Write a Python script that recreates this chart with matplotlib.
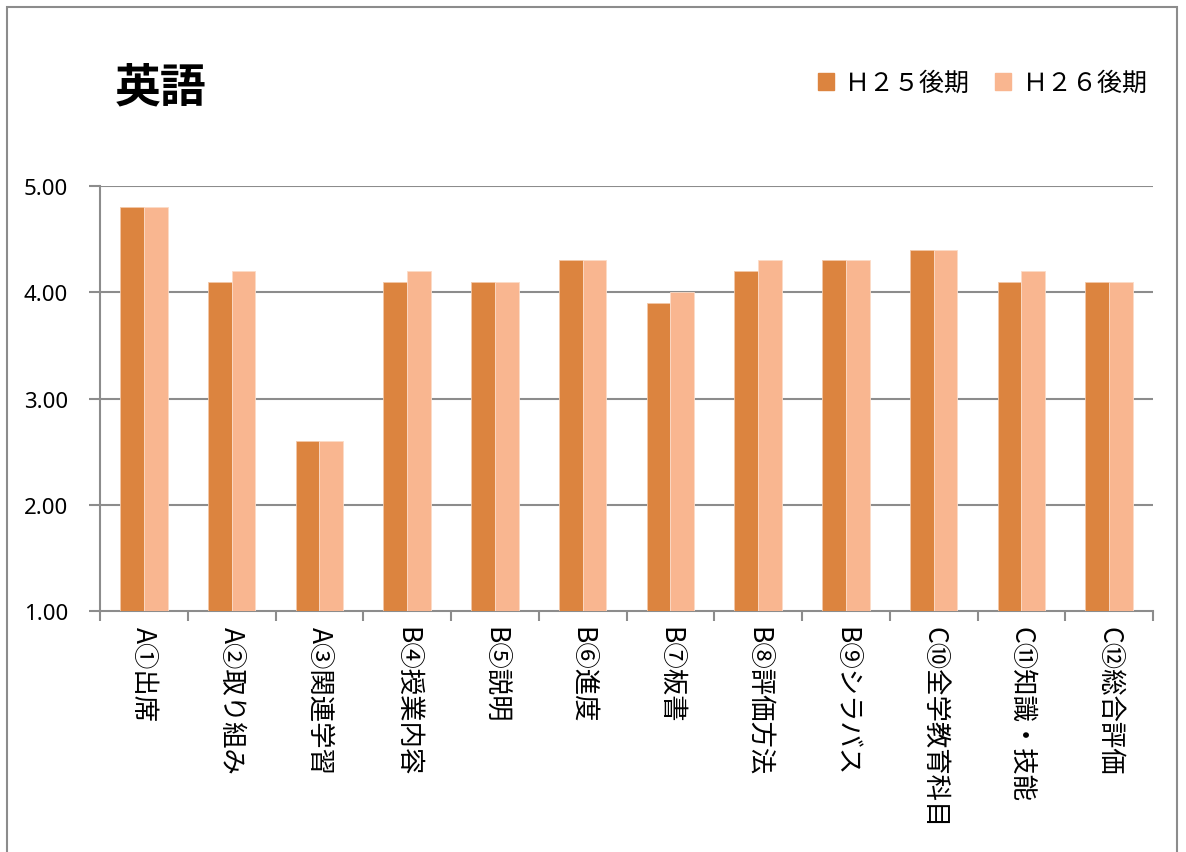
import matplotlib
matplotlib.use("Agg")
import matplotlib.pyplot as plt
from matplotlib.patches import Patch, Rectangle
import numpy as np

plt.rcParams['font.family'] = ['Noto Sans CJK JP', 'DejaVu Sans']

categories = ["A①出席", "A②取り組み", "A③関連学習", "B④授業内容", "B⑤説明", "B⑥進度",
              "B⑦板書", "B⑧評価方法", "B⑨シラバス", "C⑩全学教育科目", "C⑪知識・技能", "C⑫総合評価"]
h25 = [4.8, 4.1, 2.6, 4.1, 4.1, 4.3, 3.9, 4.2, 4.3, 4.4, 4.1, 4.1]
h26 = [4.8, 4.2, 2.6, 4.2, 4.1, 4.3, 4.0, 4.3, 4.3, 4.4, 4.2, 4.1]
series_names = ["Ｈ２５後期", "Ｈ２６後期"]
yticks = [1.0, 2.0, 3.0, 4.0, 5.0]

c1 = "#DC843F"
c2 = "#F9B690"
grey = "#8C8C8C"

fig = plt.figure(figsize=(11.86, 8.53), dpi=100)
ax = fig.add_axes([100/1186, 1-612/853, 1053/1186, 425/853])

x = np.arange(len(categories))
w = 0.27
ax.bar(x - w/2, np.array(h25) - 1, w, bottom=1, color=c1, edgecolor="#F2C8A8", linewidth=0.6, zorder=3)
ax.bar(x + w/2, np.array(h26) - 1, w, bottom=1, color=c2, edgecolor="#FCDCC8", linewidth=0.6, zorder=3)

ax.set_xlim(-0.5, len(categories) - 0.5)
ax.set_ylim(1, 5)
ax.set_yticks(yticks)
ax.set_yticklabels([f"{v:.2f}" for v in yticks], family="Noto Sans", fontsize=16)
for y in yticks[1:]:
    ax.axhline(y, color=grey, linewidth=1.5, zorder=1)

ax.set_xticks(x)
ax.set_xticklabels(categories, rotation=270, fontsize=19, va="top", ha="center")
ax.tick_params(axis="x", length=0, pad=11)
ax.set_xticks(np.arange(-0.5, len(categories), 1), minor=True)
ax.tick_params(axis="x", which="minor", length=7, width=1.5, color=grey)
ax.tick_params(axis="y", length=8, width=1.5, color=grey, pad=15)

for s in ["top", "right"]:
    ax.spines[s].set_visible(False)
for s in ["left", "bottom"]:
    ax.spines[s].set_color(grey)
    ax.spines[s].set_linewidth(1.5)

fig.text(115/1186, 1-88/853, "英語", fontsize=33, fontweight="bold", va="center", ha="left")

handles = [Patch(color=c1), Patch(color=c2)]
fig.legend(handles, series_names, loc="center right", bbox_to_anchor=(1170/1186, 1-84/853),
           ncol=2, frameon=False, fontsize=18, handlelength=0.65, handleheight=0.65,
           handletextpad=0.45, columnspacing=1.0)

fig.add_artist(Rectangle((7/1186, -0.05), 1170/1186, 1.05 - 8/853, transform=fig.transFigure,
                         fill=False, edgecolor=grey, linewidth=1.5))

fig.savefig("out.png", dpi=100)
